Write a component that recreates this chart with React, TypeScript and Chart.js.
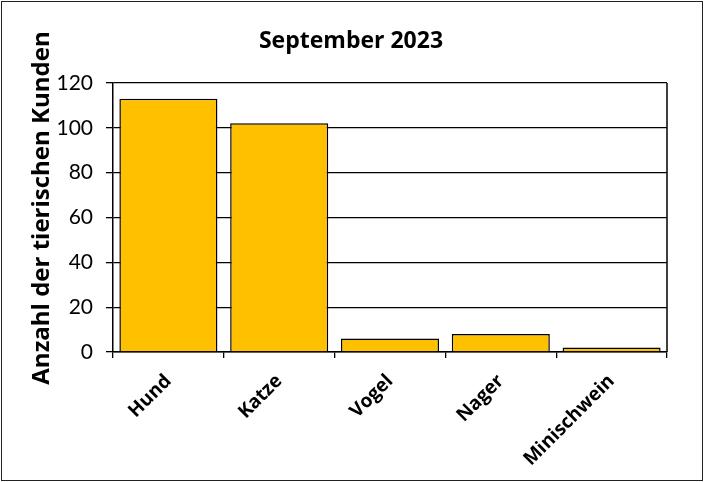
import React, { useEffect, useRef } from "react";
import { Chart, registerables } from "chart.js";

Chart.register(...registerables);

const categories = ["Hund", "Katze", "Vogel", "Nager", "Minischwein"];
const values = [113, 102, 6, 8, 2];
const chartTitle = "September 2023";
const yTitle = "Anzahl der tierischen Kunden";
const yMin = 0;
const yMax = 120;
const yStep = 20;

const BOLD_FONT = "'Open Sans', 'Noto Sans', sans-serif";
const TICK_FONT = "Lato, 'Open Sans', sans-serif";

const frame = {
  id: "frame",
  afterDatasetsDraw(chart: any) {
    const { ctx, chartArea } = chart;
    ctx.save();
    ctx.strokeStyle = "#000";
    ctx.lineWidth = 1.5;
    ctx.beginPath();
    ctx.moveTo(chartArea.right, chartArea.top);
    ctx.lineTo(chartArea.right, chartArea.bottom);
    ctx.stroke();
    // chart title, centred on the whole picture
    ctx.fillStyle = "#000";
    ctx.font = `bold 23px ${BOLD_FONT}`;
    ctx.textAlign = "center";
    ctx.textBaseline = "middle";
    ctx.fillText(chartTitle, 351, 41);
    // y axis title
    ctx.translate(42, 208);
    ctx.rotate(-Math.PI / 2);
    ctx.font = `bold 24px ${BOLD_FONT}`;
    ctx.fillText(yTitle, 0, 0);
    ctx.restore();
  },
};

export default function App() {
  const ref = useRef<HTMLCanvasElement>(null);
  useEffect(() => {
    if (!ref.current) return;
    const chart = new Chart(ref.current, {
      type: "bar",
      data: {
        labels: categories,
        datasets: [
          {
            data: values,
            backgroundColor: "#FFC000",
            borderColor: "#000000",
            borderWidth: 1.5,
            categoryPercentage: 1,
            barPercentage: 0.885,
          },
        ],
      },
      options: {
        responsive: false,
        animation: false,
        devicePixelRatio: 1,
        layout: { padding: { left: 0, right: 37, top: 83, bottom: 0 } },
        plugins: {
          legend: { display: false },
          tooltip: { enabled: false },
          title: { display: false },
        },
        scales: {
          x: {
            afterFit: (s: any) => {
              s.height = 130;
            },
            grid: {
              display: true,
              offset: true,
              drawOnChartArea: false,
              drawTicks: true,
              tickLength: 6,
              color: "#000",
              lineWidth: 1.3,
            },
            border: { display: true, color: "#000", width: 1.5 },
            ticks: {
              maxRotation: 45,
              minRotation: 45,
              color: "#000",
              padding: 12,
              font: { family: BOLD_FONT, size: 19, weight: "bold" },
            },
          },
          y: {
            min: yMin,
            max: yMax,
            afterFit: (s: any) => {
              s.width = 113;
            },
            grid: {
              display: true,
              color: "#000",
              lineWidth: 1.3,
              tickLength: 7,
            },
            border: { display: true, color: "#000", width: 1.5 },
            ticks: {
              stepSize: yStep,
              color: "#000",
              padding: 13,
              font: { family: TICK_FONT, size: 21 },
            },
          },
        },
      },
      plugins: [frame],
    });
    return () => chart.destroy();
  }, []);

  return (
    <div style={{ position: "absolute", left: 0, top: 0, width: 704, height: 482, background: "#fff" }}>
      <canvas ref={ref} width={704} height={482} style={{ display: "block" }} />
      <div
        style={{
          position: "absolute",
          left: 1,
          top: 1,
          width: 702,
          height: 480,
          boxSizing: "border-box",
          border: "1.5px solid #222",
          pointerEvents: "none",
        }}
      />
    </div>
  );
}
